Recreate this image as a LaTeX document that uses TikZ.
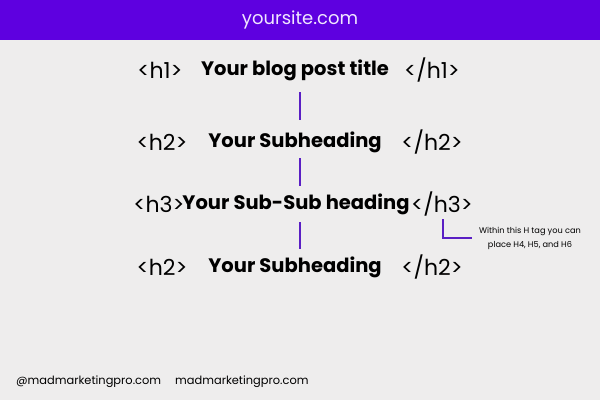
\documentclass[tikz,border=0pt]{standalone}
\usepackage{fontspec}
\setmainfont{Poppins}
\usetikzlibrary{positioning}
\definecolor{sitepurple}{HTML}{5E00E0}
\definecolor{linepurple}{HTML}{5A1FC4}
\definecolor{paper}{HTML}{EEEDED}
\definecolor{sitetext}{HTML}{F0E6FF}
\begin{document}
\begin{tikzpicture}[x=1pt,y=-1pt]
  \tikzstyle{tag}=[inner sep=0pt,font=\fontsize{22}{24}\selectfont]
  \tikzstyle{heading}=[inner sep=0pt,font=\fontsize{19.5}{22}\selectfont\bfseries]
  \tikzstyle{stem}=[draw=linepurple,line width=2pt]
  \tikzstyle{footer}=[anchor=west,inner sep=0pt,font=\fontsize{11.4}{13}\selectfont]

  % page and header band
  \fill[paper] (0,0) rectangle (600,400);
  \fill[sitepurple] (0,0) rectangle (600,40);
  \node[text=sitetext,font=\fontsize{18}{20}\selectfont] (site) at (300,20) {yoursite.com};

  % heading rows
  \node[tag] (open1) at (160,70) {<h1>};
  \node[heading] (title1) at (295,70) {Your blog post title};
  \node[tag] (close1) at (432,70) {</h1>};

  \node[tag] (open2) at (162,142) {<h2>};
  \node[heading] (title2) at (295,142) {Your Subheading};
  \node[tag] (close2) at (432,142) {</h2>};

  \node[tag] (open3) at (159,204) {<h3>};
  \node[heading] (title3) at (296,204) {Your Sub-Sub heading};
  \node[tag] (close3) at (442,204) {</h3>};

  \node[tag] (open4) at (162,267) {<h2>};
  \node[heading] (title4) at (295,267) {Your Subheading};
  \node[tag] (close4) at (432,267) {</h2>};

  % stems between rows
  \coordinate (s1a) at (300,92);  \coordinate (s1b) at (300,120);
  \coordinate (s2a) at (300,158); \coordinate (s2b) at (300,186);
  \coordinate (s3a) at (300,222); \coordinate (s3b) at (300,249);
  \draw[stem] (s1a) -- (s1b);
  \draw[stem] (s2a) -- (s2b);
  \draw[stem] (s3a) -- (s3b);

  % note on h3
  \node[inner sep=0pt,align=center,font=\fontsize{8.2}{14}\selectfont] (note) at (530,238)
    {Within this H tag you can\\place H4, H5, and H6};
  \coordinate (hook) at (443,238);
  \draw[stem,line width=1.5pt] (443,219) -- (hook) -- (472,238);

  % footer
  \node[footer] (handle) at (16,382) {@madmarketingpro.com};
  \node[footer] (web) at (175,382) {madmarketingpro.com};
\end{tikzpicture}
\end{document}
